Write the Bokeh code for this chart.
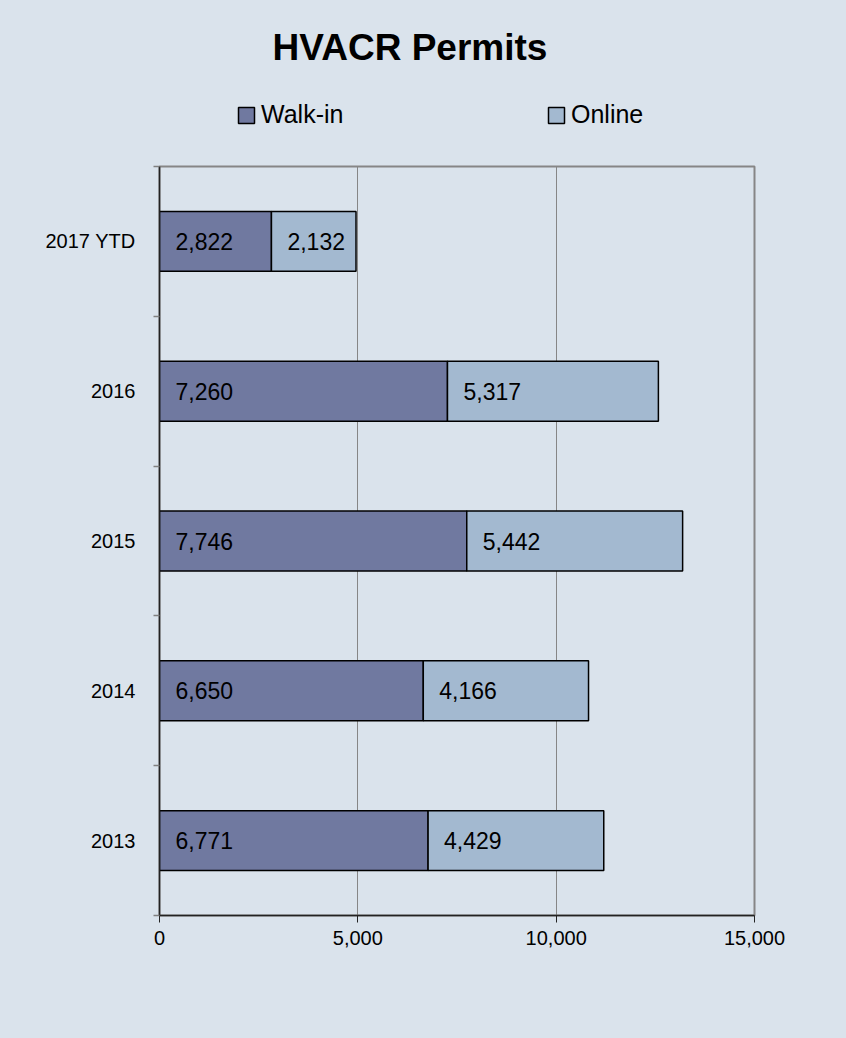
from bokeh.plotting import figure
from bokeh.layouts import column
from bokeh.models import (FixedTicker, NumeralTickFormatter, Range1d, Label, Legend,
                          LegendItem, ColumnDataSource)
from bokeh.embed import file_html
from bokeh.resources import INLINE
from bokeh.core.properties import value

# ---- data ----
categories = ["2013", "2014", "2015", "2016", "2017 YTD"]
walk_in = [6771, 6650, 7746, 7260, 2822]
online = [4429, 4166, 5442, 5317, 2132]
series_names = ["Walk-in", "Online"]
x_ticks = [0, 5000, 10000, 15000]
x_max = 15000
title_text = "HVACR Permits"

# ---- style ----
BG = "#DAE3EC"
WALK = "#7079A0"
ONLINE = "#A3B9D0"
GRID = "#868686"
FONT = "Liberation Sans"

W = 846
TOP_H = 160
MAIN_H = 1038 - TOP_H
FL, FR, FT, FB = 159, 754, 6, 755  # frame edges in main-figure pixels

ys = [i + 0.5 for i in range(len(categories))]
totals = [a + b for a, b in zip(walk_in, online)]
src = ColumnDataSource(dict(
    y=ys, walk=walk_in, online=online, total=totals,
    walk_lbl=[f"{v:,}" for v in walk_in],
    online_lbl=[f"{v:,}" for v in online],
))

# ---------- header (title + legend) ----------
top = figure(width=W, height=TOP_H, output_backend="svg", toolbar_location=None,
             x_range=Range1d(0, x_max), y_range=Range1d(0, len(categories)),
             x_axis_type=None, y_axis_type=None,
             min_border=0, min_border_left=FL, min_border_right=W - FR,
             min_border_top=0, min_border_bottom=0)
top.title = None
top.background_fill_alpha = 0
top.border_fill_color = BG
top.outline_line_color = None
top.grid.visible = False

top.add_layout(Label(x=409.5 - FL, y=113, x_units="screen", y_units="screen",
                     text=title_text, text_align="center", text_baseline="alphabetic",
                     text_font=FONT, text_font_size="37px", text_font_style="bold",
                     text_color="black"))

# legend keys: hidden copies of the two bar series
k1 = top.hbar(y="y", left=0, right="walk", height=0.4, source=src, visible=False,
              fill_color=WALK, line_color="black", line_width=1.5)
k2 = top.hbar(y="y", left="walk", right="total", height=0.4, source=src, visible=False,
              fill_color=ONLINE, line_color="black", line_width=1.5)
legend = Legend(items=[LegendItem(label=series_names[0], renderers=[k1]),
                       LegendItem(label=series_names[1], renderers=[k2])],
                orientation="horizontal", location=(236 - FL, TOP_H - 129),
                glyph_width=20, glyph_height=20, label_standoff=5,
                label_width=106, spacing=179,
                padding=0, margin=0, border_line_color=None,
                background_fill_alpha=0, inactive_fill_alpha=0,
                label_text_font=FONT,
                label_text_font_size="25px", label_text_color="black")
top.add_layout(legend)

# ---------- main chart ----------
p = figure(width=W, height=MAIN_H, output_backend="svg", toolbar_location=None,
           x_range=Range1d(0, x_max), y_range=Range1d(0, len(categories)),
           min_border_left=FL, min_border_right=W - FR,
           min_border_top=FT, min_border_bottom=MAIN_H - FB)
p.title = None
p.background_fill_color = BG
p.border_fill_color = BG
p.outline_line_color = GRID
p.outline_line_width = 2

r1 = p.hbar(y="y", left=0, right="walk", height=0.4, source=src,
            fill_color=WALK, line_color="black", line_width=1.5)
r2 = p.hbar(y="y", left="walk", right="total", height=0.4, source=src,
            fill_color=ONLINE, line_color="black", line_width=1.5)

p.text(x=0, y="y", text="walk_lbl", source=src, x_offset=16,
       text_baseline="middle", text_align="left", text_color="black",
       text_font=value(FONT), text_font_size="23px")
p.text(x="walk", y="y", text="online_lbl", source=src, x_offset=16,
       text_baseline="middle", text_align="left", text_color="black",
       text_font=value(FONT), text_font_size="23px")

# x axis
xa = p.xaxis[0]
xa.ticker = FixedTicker(ticks=x_ticks)
xa.formatter = NumeralTickFormatter(format="0,0")
xa.major_tick_out = 7
xa.major_tick_in = 0
xa.minor_tick_line_color = None
xa.axis_line_color = "#222222"
xa.axis_line_width = 1.5
xa.major_tick_line_color = "#222222"
xa.major_label_text_font = FONT
xa.major_label_text_font_size = "20px"
xa.major_label_text_color = "black"
xa.major_label_standoff = 8

# y axis
ya = p.yaxis[0]
ya.ticker = FixedTicker(ticks=ys, minor_ticks=list(range(len(categories) + 1)))
ya.major_label_overrides = {y: c for y, c in zip(ys, categories)}
ya.major_tick_line_color = None
ya.major_tick_out = 0
ya.major_tick_in = 0
ya.minor_tick_out = 6
ya.minor_tick_in = 0
ya.minor_tick_line_color = "#808080"
ya.minor_tick_line_width = 1.5
ya.axis_line_color = "#222222"
ya.axis_line_width = 1.5
ya.major_label_text_font = FONT
ya.major_label_text_font_size = "20px"
ya.major_label_text_color = "black"
ya.major_label_standoff = 18

p.ygrid.visible = False
p.xgrid.grid_line_color = GRID
p.xgrid.grid_line_width = 1

layout = column(top, p, spacing=0, styles={"background-color": BG})
open("out.html", "w").write(file_html(layout, INLINE))
